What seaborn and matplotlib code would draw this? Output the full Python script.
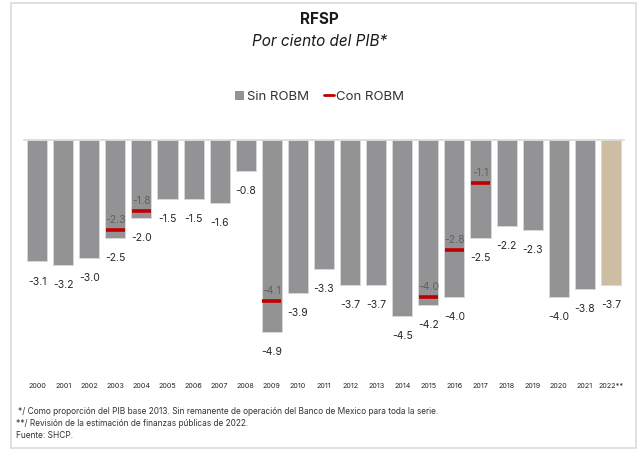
import numpy as np
import pandas as pd
import matplotlib.pyplot as plt
import seaborn as sns
from matplotlib.patches import Patch, Rectangle
from matplotlib.lines import Line2D

# Data
years = ["2000", "2001", "2002", "2003", "2004", "2005", "2006", "2007", "2008", "2009",
         "2010", "2011", "2012", "2013", "2014", "2015", "2016", "2017", "2018", "2019",
         "2020", "2021", "2022**"]
sin_robm = [-3.1, -3.2, -3.0, -2.5, -2.0, -1.5, -1.5, -1.6, -0.8, -4.9,
            -3.9, -3.3, -3.7, -3.7, -4.5, -4.2, -4.0, -2.5, -2.2, -2.3,
            -4.0, -3.8, -3.7]
con_robm = [None, None, None, -2.3, -1.8, None, None, None, None, -4.1,
            None, None, None, None, None, -4.0, -2.8, -1.1, None, None,
            None, None, None]

GRAY = "#939296"
TAN = "#D4C09C"
RED = "#C00000"

df = pd.DataFrame({"year": years, "sin": sin_robm, "con": con_robm})
palette = {y: (TAN if y.endswith("**") else GRAY) for y in years}

sns.set_style("white")
plt.rcParams["font.family"] = ["Inter", "DejaVu Sans"]

fig = plt.figure(figsize=(6.39, 4.51), dpi=100)
ax = fig.add_axes([24 / 639, 1 - 375 / 451, 600 / 639, 235 / 451])

sns.barplot(data=df, x="year", y="sin", hue="year", palette=palette, legend=False,
            width=0.77, edgecolor="#d9d9d9", linewidth=0.6, ax=ax)

# Con ROBM markers and labels
for i, row in df.iterrows():
    ax.annotate(f"{row['sin']:.1f}", (i, row["sin"]), xytext=(0, -14.5),
                textcoords="offset points", ha="center", va="center",
                fontsize=7.5, color="#262626")
    if pd.notna(row["con"]):
        ax.hlines(row["con"], i - 0.36, i + 0.36, color=RED, linewidth=2.6)
        ax.annotate(f"{row['con']:.1f}", (i, row["con"]), xytext=(0, 7),
                    textcoords="offset points", ha="center", va="center",
                    fontsize=7.5, color="#606060")

ax.set_xlim(-0.5, len(years) - 0.5)
ax.set_ylim(-6.0, 0)
ax.set_yticks([])
ax.set_xlabel("")
ax.set_ylabel("")
for s in ["left", "right", "bottom"]:
    ax.spines[s].set_visible(False)
ax.spines["top"].set_color("#d9d9d9")
ax.spines["top"].set_linewidth(1.2)
ax.tick_params(axis="x", length=0, labelsize=5.2, pad=6, labelcolor="#262626")

# Titles
fig.text(0.5, 1 - 19 / 451, "RFSP", ha="center", va="center", fontsize=11,
         fontweight="bold", color="#1a1a1a")
fig.text(0.5, 1 - 41 / 451, "Por ciento del PIB*", ha="center", va="center",
         fontsize=11, style="italic", color="#1a1a1a")

# Legend
handles = [Patch(facecolor=GRAY, edgecolor="none", label="Sin ROBM"),
           Line2D([0], [0], color=RED, linewidth=2, label="Con ROBM")]
fig.legend(handles=handles, loc="center", bbox_to_anchor=(0.5, 1 - 97 / 451), ncol=2,
           frameon=False, fontsize=9.5, handlelength=0.7, handletextpad=0.2,
           columnspacing=1.2, labelcolor="#333333")

# Footnotes
notes = ["*/ Como proporción del PIB base 2013. Sin remanente de operación del Banco de Mexico para toda la serie.",
         "**/ Revisión de la estimación de finanzas públicas de 2022.",
         "Fuente: SHCP."]
for k, t in enumerate(notes):
    fig.text((18 if k == 0 else 16) / 639, 1 - (412 + 12 * k) / 451, t,
             ha="left", va="center", fontsize=6, color="#333333")

# Outer frame
fig.patches.append(Rectangle((11 / 639, 3 / 451), 625 / 639, 445 / 451, transform=fig.transFigure,
                             fill=False, edgecolor="#dcdcdc", linewidth=1.2))

fig.savefig("out.png", dpi=100)
